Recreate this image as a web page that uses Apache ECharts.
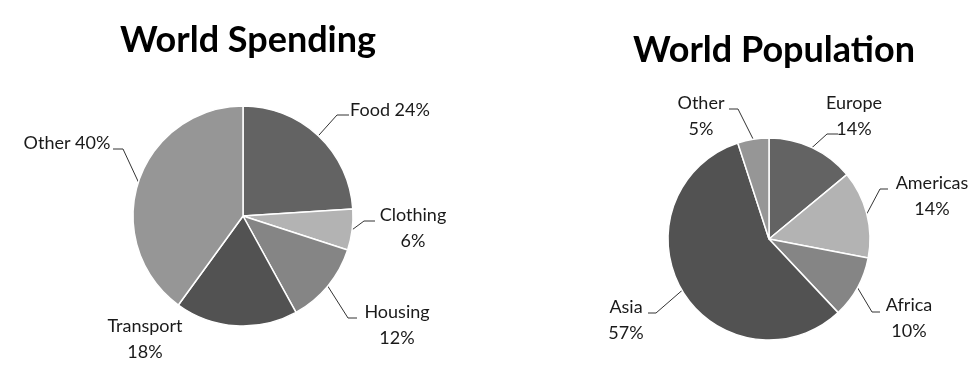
<!DOCTYPE html>
<html>
<head>
<meta charset="utf-8">
<script src="https://cdn.jsdelivr.net/npm/echarts@6/dist/echarts.min.js"></script>
<style>html,body{margin:0;background:#fff}#main{width:977px;height:366px}</style>
</head>
<body>
<div id="main"></div>
<script>
// data
var spendNames = ['Food', 'Clothing', 'Housing', 'Transport', 'Other'];
var spendValues = [24, 6, 12, 18, 40];
var popNames = ['Europe', 'Americas', 'Africa', 'Asia', 'Other'];
var popValues = [14, 14, 10, 57, 5];
var sliceColors = ['#636363', '#b3b3b3', '#858585', '#525252', '#969696'];

// label placement relative to pie centre: [textX, textY, elbowX, elbowY, endX, endY]
var spendLabelPos = [
    [147, -106, 94, -101, 106, -101],
    [170, 12, 121, 5, 132, 5],
    [154, 109, 105, 102, 114, 102],
    [-98, 123],
    [-176, -73, -120, -67, -130, -67]
];
var popLabelPos = [
    [85, -123, 58, -105, 69, -105],
    [163, -43, 111, -50, 119, -50],
    [140, 79, 103, 73, 111, 73],
    [-143, 81, -113, 74, -121, 74],
    [-68, -123, -31, -130, -40, -130]
];
var spendOneLine = [true, false, false, false, true];

var font = 'Lato';

function pieData(names, values, pos, oneLine) {
    return names.map(function (n, i) {
        var item = {
            name: n,
            value: values[i],
            itemStyle: { color: sliceColors[i] },
            label: { formatter: (oneLine && oneLine[i]) ? '{b} {c}%' : '{b}\n{c}%' }
        };
        if (pos[i].length < 3) {
            item.labelLine = { show: false };
        }
        return item;
    });
}

function makeLayout(cx, cy, pos) {
    return function (params) {
        var p = pos[params.dataIndex];
        var res = { x: cx + p[0], y: cy + p[1], align: 'center', verticalAlign: 'middle' };
        if (p.length > 2 && params.labelLinePoints) {
            var start = params.labelLinePoints[0];
            res.labelLinePoints = [
                [start[0], start[1]],
                [cx + p[2], cy + p[3]],
                [cx + p[4], cy + p[5]]
            ];
        }
        return res;
    };
}

function pieSeries(cx, cy, r, names, values, pos, oneLine) {
    return {
        type: 'pie',
        center: [cx, cy],
        radius: r,
        startAngle: 90,
        clockwise: true,
        avoidLabelOverlap: false,
        animation: false,
        data: pieData(names, values, pos, oneLine),
        itemStyle: { borderColor: '#fff', borderWidth: 1.5 },
        label: {
            show: true,
            position: 'outside',
            color: '#1a1a1a',
            fontFamily: font,
            fontSize: 18,
            lineHeight: 26
        },
        labelLine: {
            show: true,
            lineStyle: { color: '#333', width: 1 }
        },
        emphasis: { disabled: true },
        labelLayout: makeLayout(cx, cy, pos)
    };
}

var myChart = echarts.init(document.getElementById('main'), null, { renderer: 'canvas' });

var option = {
    backgroundColor: '#fff',
    title: [
        {
            text: 'World Spending',
            left: 243,
            top: 17,
            textAlign: 'center',
            textStyle: { fontFamily: font, fontSize: 36, fontWeight: 'bold', color: '#000' }
        },
        {
            text: 'World Population',
            left: 769,
            top: 27,
            textAlign: 'center',
            textStyle: { fontFamily: font, fontSize: 36, fontWeight: 'bold', color: '#000' }
        }
    ],
    tooltip: { show: false },
    series: [
        pieSeries(243, 216, 110, spendNames, spendValues, spendLabelPos, spendOneLine),
        pieSeries(769, 239, 101, popNames, popValues, popLabelPos, null)
    ]
};

myChart.setOption(option);
window.addEventListener('resize', myChart.resize);
</script>
</body>
</html>
